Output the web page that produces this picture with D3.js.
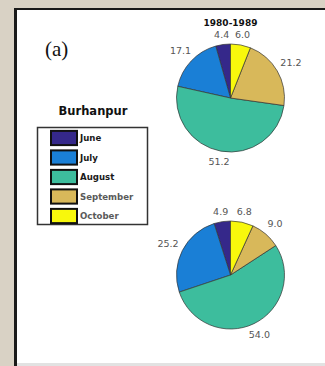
<!DOCTYPE html>
<html><head><meta charset="utf-8">
<script src="https://cdn.jsdelivr.net/npm/d3@7"></script>
<style>
html,body{margin:0;padding:0;background:#d9d2c5;}
svg{display:block;}
</style></head>
<body>
<svg id="c" width="325" height="366"></svg>
<script>
const months = ["June","July","August","September","October"];
const colors = ["#35288a","#1a7fd6","#3dbd9d","#d8b85a","#f8f80c"];
const values1980 = [4.4,17.1,51.2,21.2,6.0];
const values2nd = [4.9,25.2,54.0,9.0,6.8];
const panelTitle = "1980-1989";
const station = "Burhanpur";
const panelTag = "(a)";

const svg = d3.select("#c");
// panel
svg.append("rect").attr("x",14).attr("y",8).attr("width",311).attr("height",358).attr("fill","#1a1a1a");
svg.append("rect").attr("x",17).attr("y",10).attr("width",308).attr("height",353).attr("fill","#ffffff");
svg.append("rect").attr("x",17).attr("y",363).attr("width",308).attr("height",3).attr("fill","#e2e2e2");

svg.append("text").attr("x",45).attr("y",56).attr("font-family","Liberation Serif").attr("font-size",21).attr("fill","#111").text(panelTag);

svg.append("text").attr("x",93).attr("y",115).attr("text-anchor","middle").attr("font-family","DejaVu Sans").attr("font-weight","bold").attr("font-size",11.5).attr("fill","#111").text(station);

// legend
const lg = svg.append("g");
lg.append("rect").attr("x",37.5).attr("y",127.5).attr("width",110).attr("height",97).attr("fill","#fff").attr("stroke","#333").attr("stroke-width",1.5);
const ly = d3.scaleBand().domain(months).range([130,224]).paddingInner(0.22).paddingOuter(0.02);
months.forEach((m,i)=>{
  lg.append("rect").attr("x",51).attr("y",ly(m)+0.5).attr("width",26).attr("height",ly.bandwidth()-1).attr("fill",colors[i]).attr("stroke","#111").attr("stroke-width",2);
  lg.append("text").attr("x",80).attr("y",ly(m)+ly.bandwidth()/2+3.2).attr("font-family","DejaVu Sans").attr("font-weight","bold").attr("font-size",8.6).attr("fill", i<3?"#1a1a1a":"#5a5a5a").text(m);
});

const pie = d3.pie().sort(null).value(d=>d).startAngle(0).endAngle(-2*Math.PI);
const r = 54;
const arc = d3.arc().innerRadius(0).outerRadius(r);
function drawPie(vals, cx, cy){
  const g = svg.append("g").attr("transform",`translate(${cx},${cy})`);
  const arcs = pie(vals);
  g.selectAll("path").data(arcs).enter().append("path")
    .attr("d",arc).attr("fill",(d,i)=>colors[i]).attr("stroke","#333").attr("stroke-width",0.7);
  arcs.forEach((d,i)=>{
    const a = (d.startAngle+d.endAngle)/2;
    const s = Math.sin(a), c = Math.cos(a);
    const rr = 63 + 8*Math.abs(s);
    g.append("text").attr("x",rr*s).attr("y",-rr*c+3.5).attr("text-anchor","middle")
      .attr("font-family","DejaVu Sans").attr("font-size",9.5).attr("fill","#555").text(vals[i].toFixed(1));
  });
}
drawPie(values1980, 230.5, 98);
drawPie(values2nd, 230.5, 275);

svg.append("text").attr("x",230.5).attr("y",26).attr("text-anchor","middle").attr("font-family","DejaVu Sans").attr("font-weight","bold").attr("font-size",9).attr("fill","#111").text(panelTitle);
</script>
</body></html>
